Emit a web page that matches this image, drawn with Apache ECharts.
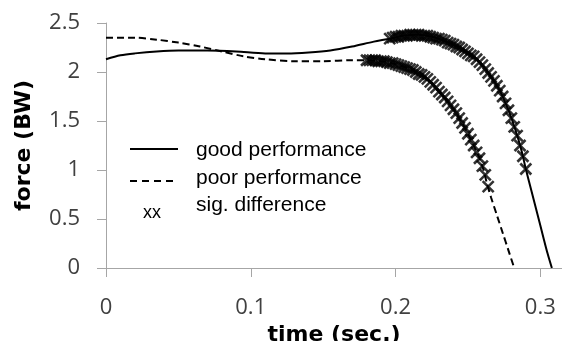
<!DOCTYPE html>
<html>
<head>
<meta charset="utf-8">
<script src="https://cdn.jsdelivr.net/npm/echarts@6/dist/echarts.min.js"></script>
<style>
  html, body { margin: 0; padding: 0; background: #fff; }
  #force { width: 562px; height: 341px; }
</style>
</head>
<body>
<div id="force"></div>
<script>
// time (sec.) and force (BW)
var goodTime = [0, 0.010, 0.020, 0.035, 0.050, 0.070, 0.090, 0.110, 0.125, 0.140, 0.155, 0.170, 0.185,
    0.196, 0.205, 0.215, 0.225, 0.235, 0.245, 0.253, 0.260, 0.266, 0.272, 0.278, 0.283, 0.287, 0.290,
    0.294, 0.298, 0.302, 0.305, 0.308];
var goodForce = [2.13, 2.17, 2.19, 2.21, 2.22, 2.22, 2.21, 2.19, 2.19, 2.20, 2.22, 2.26, 2.31,
    2.34, 2.37, 2.38, 2.36, 2.31, 2.24, 2.17, 2.07, 1.95, 1.81, 1.61, 1.40, 1.20, 1.01,
    0.78, 0.55, 0.32, 0.15, 0];

var poorTime = [0, 0.020, 0.035, 0.050, 0.065, 0.080, 0.095, 0.110, 0.130, 0.150, 0.170, 0.180, 0.190,
    0.200, 0.210, 0.218, 0.225, 0.230, 0.236, 0.241, 0.246, 0.250, 0.254, 0.258, 0.261, 0.263,
    0.266, 0.270, 0.274, 0.278, 0.282];
var poorForce = [2.35, 2.35, 2.33, 2.30, 2.26, 2.21, 2.16, 2.13, 2.11, 2.11, 2.12, 2.12, 2.11,
    2.08, 2.03, 1.97, 1.89, 1.80, 1.70, 1.60, 1.48, 1.37, 1.25, 1.12, 0.99, 0.87,
    0.72, 0.54, 0.36, 0.18, 0];

// significant difference markers (x)
var goodSigTime = [0.196, 0.198, 0.200, 0.202, 0.204, 0.206, 0.208, 0.210, 0.212, 0.214, 0.216, 0.218,
    0.220, 0.222, 0.224, 0.226, 0.228, 0.230, 0.232, 0.234, 0.236, 0.238, 0.240, 0.242, 0.244, 0.246,
    0.248, 0.250, 0.252, 0.254, 0.256, 0.258, 0.260, 0.262, 0.264, 0.266, 0.268, 0.270, 0.272, 0.274,
    0.276, 0.278, 0.280, 0.282, 0.284, 0.286, 0.288, 0.290];
var goodSigForce = [2.34, 2.35, 2.36, 2.36, 2.37, 2.37, 2.37, 2.38, 2.38, 2.38, 2.38, 2.37,
    2.37, 2.37, 2.36, 2.35, 2.34, 2.34, 2.33, 2.32, 2.30, 2.29, 2.28, 2.26, 2.25, 2.23,
    2.21, 2.19, 2.17, 2.16, 2.13, 2.10, 2.07, 2.03, 1.99, 1.95, 1.91, 1.86, 1.81, 1.75,
    1.68, 1.61, 1.53, 1.44, 1.35, 1.25, 1.14, 1.01];

var poorSigTime = [0.180, 0.182, 0.184, 0.186, 0.188, 0.190, 0.192, 0.194, 0.196, 0.198, 0.200, 0.202,
    0.204, 0.206, 0.208, 0.210, 0.212, 0.214, 0.216, 0.218, 0.220, 0.222, 0.224, 0.226, 0.228, 0.230,
    0.232, 0.234, 0.236, 0.238, 0.240, 0.242, 0.244, 0.246, 0.248, 0.250, 0.252, 0.254, 0.256, 0.258,
    0.260, 0.262, 0.264];
var poorSigForce = [2.12, 2.12, 2.12, 2.12, 2.11, 2.11, 2.11, 2.10, 2.09, 2.09, 2.08, 2.07,
    2.06, 2.05, 2.04, 2.03, 2.02, 2.00, 1.98, 1.97, 1.95, 1.93, 1.90, 1.87, 1.84, 1.80,
    1.77, 1.74, 1.70, 1.66, 1.62, 1.58, 1.53, 1.48, 1.43, 1.37, 1.31, 1.25, 1.18, 1.12,
    1.04, 0.95, 0.83];

var legendNames = ['good performance', 'poor performance', 'sig. difference'];

function pairs(xs, ys) {
    var out = [];
    for (var i = 0; i < xs.length; i++) {
        out.push([xs[i], ys[i]]);
    }
    return out;
}

var myChart = echarts.init(document.getElementById('force'));

var axisColor = '#a6a6a6';
var labelStyle = {
    color: '#404040',
    fontFamily: 'Open Sans',
    fontSize: 22
};
var nameStyle = {
    color: '#000',
    fontFamily: 'DejaVu Sans',
    fontWeight: 'bold',
    fontSize: 22
};
var crossMark = 'path://M0,0L10,10M10,0L0,10';

var option = {
    backgroundColor: '#fff',
    animation: false,
    grid: {
        left: 106,
        right: 0,
        top: 23,
        bottom: 73,
        outerBoundsMode: 'none'
    },
    xAxis: {
        type: 'value',
        min: 0,
        max: 0.315,
        interval: 0.1,
        name: 'time (sec.)',
        nameLocation: 'middle',
        nameGap: 50,
        nameTextStyle: nameStyle,
        splitLine: { show: false },
        axisLine: { show: true, lineStyle: { color: axisColor, width: 1 } },
        axisTick: { show: true, inside: false, length: 9, lineStyle: { color: axisColor } },
        axisLabel: Object.assign({ margin: 29, showMaxLabel: false }, labelStyle)
    },
    yAxis: {
        type: 'value',
        min: 0,
        max: 2.5,
        interval: 0.5,
        name: 'force (BW)',
        nameLocation: 'middle',
        nameGap: 71,
        nameTextStyle: nameStyle,
        splitLine: { show: false },
        axisLine: { show: true, lineStyle: { color: axisColor, width: 1 } },
        axisTick: { show: true, inside: false, length: 9, lineStyle: { color: axisColor } },
        axisLabel: Object.assign({ margin: 26 }, labelStyle)
    },
    graphic: [
        { type: 'line', shape: { x1: 130, y1: 149, x2: 178, y2: 149 }, style: { stroke: '#000', lineWidth: 2 } },
        { type: 'line', shape: { x1: 130, y1: 181, x2: 178, y2: 181 }, style: { stroke: '#000', lineWidth: 2, lineDash: [7, 5] } },
        { type: 'text', left: 143, top: 204, style: { text: 'xx', fill: '#000', font: '18px "Liberation Sans"' } },
        { type: 'text', left: 196, top: 140, style: { text: legendNames[0], fill: '#000', font: '21px "Liberation Sans"' } },
        { type: 'text', left: 196, top: 168, style: { text: legendNames[1], fill: '#000', font: '21px "Liberation Sans"' } },
        { type: 'text', left: 196, top: 195, style: { text: legendNames[2], fill: '#000', font: '21px "Liberation Sans"' } }
    ],
    series: [{
        name: legendNames[0],
        type: 'line',
        data: pairs(goodTime, goodForce),
        smooth: 0.3,
        showSymbol: false,
        lineStyle: { color: '#000', width: 2 }
    }, {
        name: legendNames[1],
        type: 'line',
        data: pairs(poorTime, poorForce),
        smooth: 0.3,
        showSymbol: false,
        lineStyle: { color: '#000', width: 2, type: [7, 4] }
    }, {
        name: legendNames[2],
        type: 'scatter',
        data: pairs(goodSigTime, goodSigForce),
        symbol: crossMark,
        symbolSize: 11,
        itemStyle: { color: 'none', borderColor: '#000', borderWidth: 2.6 },
        z: 3
    }, {
        name: legendNames[2],
        type: 'scatter',
        data: pairs(poorSigTime, poorSigForce),
        symbol: crossMark,
        symbolSize: 11,
        itemStyle: { color: 'none', borderColor: '#000', borderWidth: 2.6 },
        z: 3
    }]
};
myChart.setOption(option);

window.onresize = function () {
    myChart.resize();
};
</script>
</body>
</html>
